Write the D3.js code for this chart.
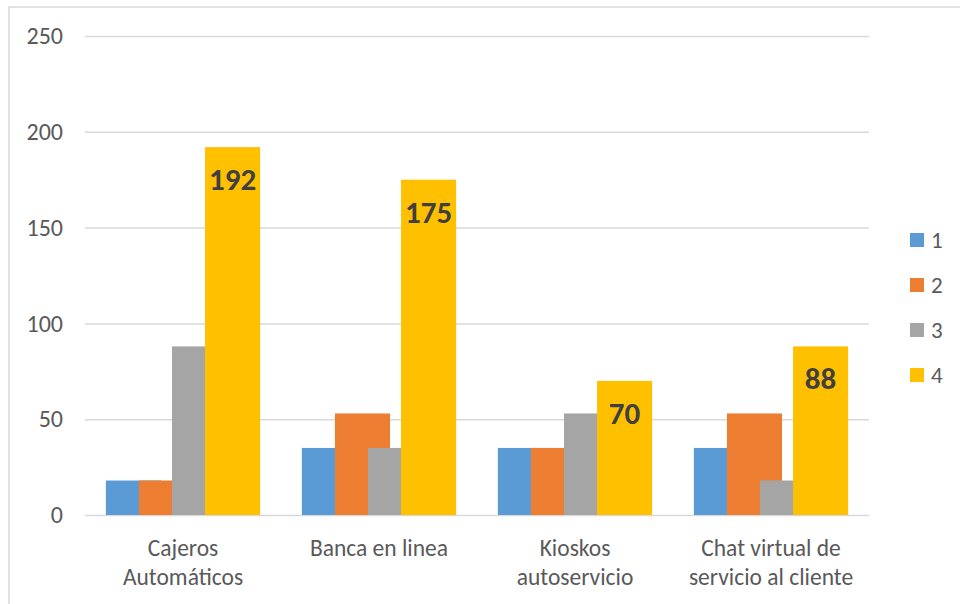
<!DOCTYPE html>
<html>
    <head>
        <meta charset="utf-8">
        <style>
            body { margin: 0; background: #fff; }
            .chart text {
                font-family: Carlito, "Liberation Sans", Arial, sans-serif;
                fill: #595959;
            }
            .chart .label {
                font-weight: bold;
                fill: #404040;
                font-size: 31px;
                text-anchor: middle;
            }
        </style>
    </head>
    <body>
        <svg class="chart"></svg>
        <script src="https://d3js.org/d3.v7.min.js"></script>
        <script>
            var categories = [['Cajeros', 'Automáticos'], ['Banca en linea'], ['Kioskos', 'autoservicio'], ['Chat virtual de', 'servicio al cliente']];
            var seriesNames = ['1', '2', '3', '4'];
            var serie1 = [18, 35, 35, 35];
            var serie2 = [18, 53, 35, 53];
            var serie3 = [88, 35, 53, 18];
            var serie4 = [192, 175, 70, 88];
            var yTicks = [0, 50, 100, 150, 200, 250];
            var colors = ['#5B9BD5', '#ED7D31', '#A5A5A5', '#FFC000'];

            var series = [serie1, serie2, serie3, serie4];
            var width = 960, height = 604;
            var plotLeft = 85, plotRight = 869, plotTop = 36, plotBottom = 515;

            var svg = d3.select('.chart')
                .attr('width', width)
                .attr('height', height);

            // outer frame (cut off at right/bottom like the picture)
            svg.append('rect')
                .attr('x', 9).attr('y', 7)
                .attr('width', 1000).attr('height', 700)
                .attr('fill', 'none')
                .attr('stroke', '#d9d9d9')
                .attr('stroke-width', 1.5);

            var y = d3.scaleLinear().domain([0, 250]).range([plotBottom, plotTop]);
            var x0 = d3.scaleBand()
                .domain(d3.range(categories.length))
                .range([plotLeft, plotRight])
                .paddingInner(0.213)
                .paddingOuter(0.1065);

            // bars overlap 40% like the excel chart
            var overlap = 0.4;
            var barW = x0.bandwidth() / (1 + (series.length - 1) * (1 - overlap));
            var stepW = barW * (1 - overlap);

            // gridlines
            var yAxis = d3.axisLeft(y).tickValues(yTicks).tickSize(-(plotRight - plotLeft)).tickPadding(22);
            var gy = svg.append('g')
                .attr('transform', 'translate(' + plotLeft + ',0)')
                .call(yAxis);
            gy.select('.domain').remove();
            gy.selectAll('.tick line').attr('stroke', '#d9d9d9').attr('stroke-width', 1.5);
            gy.selectAll('.tick text').style('font-size', '24px').attr('fill', '#595959');

            // bars
            series.forEach(function(vals, si) {
                svg.append('g').selectAll('rect')
                    .data(vals)
                    .enter().append('rect')
                    .attr('x', function(d, i) { return x0(i) + si * stepW; })
                    .attr('y', function(d) { return y(d); })
                    .attr('width', barW)
                    .attr('height', function(d) { return y(0) - y(d); })
                    .attr('fill', colors[si]);
            });

            // data labels for series 4
            svg.append('g').selectAll('text')
                .data(serie4)
                .enter().append('text')
                .attr('class', 'label')
                .attr('x', function(d, i) { return x0(i) + 3 * stepW + barW / 2; })
                .attr('y', function(d) { return y(d) + 43; })
                .text(function(d) { return d; });

            // category labels
            var cat = svg.append('g').selectAll('text')
                .data(categories)
                .enter().append('text')
                .attr('x', function(d, i) { return x0(i) + x0.bandwidth() / 2; })
                .attr('y', 556)
                .attr('text-anchor', 'middle')
                .style('font-size', '23.5px');
            cat.selectAll('tspan')
                .data(function(d) { return d; })
                .enter().append('tspan')
                .attr('x', function() { return d3.select(this.parentNode).attr('x'); })
                .attr('dy', function(d, i) { return i ? 29 : 0; })
                .text(function(d) { return d; });

            // legend
            var legend = svg.append('g').selectAll('g')
                .data(seriesNames)
                .enter().append('g')
                .attr('transform', function(d, i) { return 'translate(910,' + (233 + i * 45) + ')'; });
            legend.append('rect')
                .attr('width', 14).attr('height', 14)
                .attr('fill', function(d, i) { return colors[i]; });
            legend.append('text')
                .attr('x', 21).attr('y', 15)
                .style('font-size', '23px')
                .text(function(d) { return d; });
        </script>
    </body>
</html>
